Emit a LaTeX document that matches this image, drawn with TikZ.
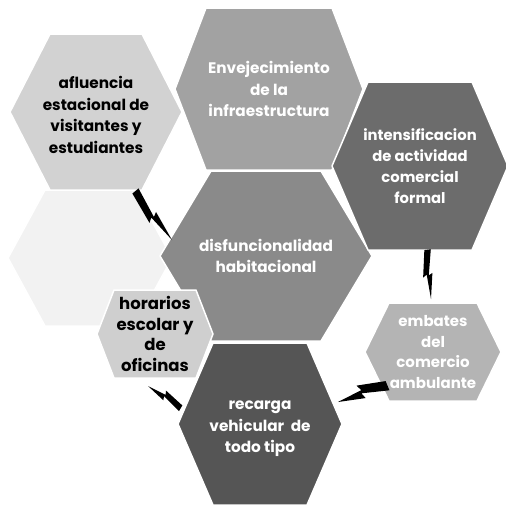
\documentclass[tikz,border=0pt]{standalone}
\usepackage{fontspec}
\setmainfont{Poppins}
\usetikzlibrary{calc}
\definecolor{faintfill}{HTML}{F2F2F2}
\definecolor{aflfill}{HTML}{D2D2D2}
\definecolor{envfill}{HTML}{A2A2A2}
\definecolor{intfill}{HTML}{6C6C6C}
\definecolor{disfill}{HTML}{8A8A8A}
\definecolor{horfill}{HTML}{CFCFCF}
\definecolor{recfill}{HTML}{555555}
\definecolor{embfill}{HTML}{B4B4B4}
% name, centre, half width, half height, half top, fill, text style, text
\newcommand\hexa[8]{%
  \path[hexline, fill=#6] ($(#2)+(-#3,0)$) -- ($(#2)+(-#5,-#4)$) -- ($(#2)+(#5,-#4)$)
    -- ($(#2)+(#3,0)$) -- ($(#2)+(#5,#4)$) -- ($(#2)+(-#5,#4)$) -- cycle;
  \node[#7] (#1) at (#2) {#8};}
% tail, tip, width
\newcommand\rayo[3]{%
  \fill[boltfill] ($(#1)!{0.45*#3}!90:(#2)$) -- ($(#1)!0.52!(#2)!{0.05*#3}!90:(#2)$)
    -- ($(#1)!0.48!(#2)!{0.35*#3}!90:(#2)$) -- (#2)
    -- ($(#1)!0.5!(#2)!{-0.1*#3}!90:(#2)$) -- ($(#1)!0.55!(#2)!{-0.4*#3}!90:(#2)$)
    -- ($(#1)!{-0.05*#3}!90:(#2)$) -- cycle;}
\begin{document}
\begin{tikzpicture}[x=1pt,y=-1pt]
\tikzset{
  hexline/.style={draw=white, line width=1.5pt, line join=round},
  darktext/.style={font=\bfseries\fontsize{15.3}{21.5}\selectfont, align=center, text=black},
  lighttext/.style={font=\bfseries\fontsize{15.3}{21.5}\selectfont, align=center, text=white},
  boltfill/.style={fill=black}
}
\useasboundingbox (0,0) rectangle (506,507);
\hexa{faint}{90,258}{82}{68}{45}{faintfill}{inner sep=0pt}{}
\hexa{disf}{266,256}{106}{85}{55}{disfill}{lighttext}{disfuncionalidad\\habitacional}
\hexa{afl}{96,112}{86}{78}{46}{aflfill}{darktext, yshift=-3pt}{afluencia\\estacional de\\visitantes y\\estudiantes}
\hexa{env}{269,89}{94}{81}{63}{envfill}{lighttext}{Envejecimiento\\de la\\infraestructura}
\hexa{inte}{420,166}{88}{84}{52}{intfill}{lighttext, font=\bfseries\fontsize{14.8}{21}\selectfont}{intensificacion\\de actividad\\comercial\\formal}
\hexa{rec}{260,424}{82}{81}{47}{recfill}{lighttext, yshift=-5pt}{recarga\\vehicular~ de\\todo tipo}
\hexa{hor}{155,334}{58}{44}{41}{horfill}{darktext, font=\bfseries\fontsize{16.5}{20.5}\selectfont}{horarios\\escolar y\\de\\oficinas}
\hexa{emb}{433,352}{68}{49}{44}{embfill}{lighttext, font=\bfseries\fontsize{15}{20.5}\selectfont}{embates\\del\\comercio\\ambulante}
% rayos entre hexagonos
\coordinate (r1a) at (133,193);
\coordinate (r1b) at (172,240);
\coordinate (r2a) at (182,406);
\coordinate (r2b) at (148,386);
\coordinate (r3a) at (386,382);
\coordinate (r3b) at (338,402);
\coordinate (r4a) at (425,250);
\coordinate (r4b) at (431,299);
\rayo{r1a}{r1b}{16pt}
\rayo{r2a}{r2b}{13pt}
\rayo{r3a}{r3b}{20pt}
\rayo{r4a}{r4b}{13pt}
\end{tikzpicture}
\end{document}
